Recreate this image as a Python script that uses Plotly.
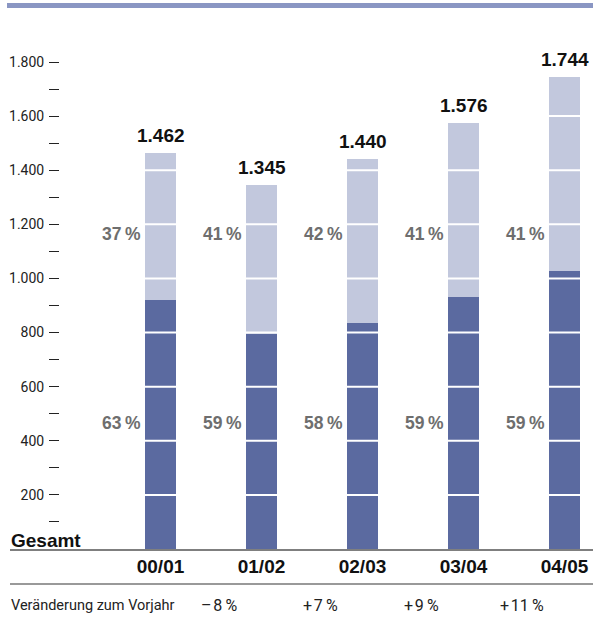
import plotly.graph_objects as go

categories = ["00/01", "01/02", "02/03", "03/04", "04/05"]
totals = [1462, 1345, 1440, 1576, 1744]
total_labels = ["1.462", "1.345", "1.440", "1.576", "1.744"]
dark_values = [921, 794, 835, 930, 1029]
dark_pct = ["63\u2009%", "59\u2009%", "58\u2009%", "59\u2009%", "59\u2009%"]
light_pct = ["37\u2009%", "41\u2009%", "42\u2009%", "41\u2009%", "41\u2009%"]
changes = ["–\u200a8\u2009%", "+\u200a7\u2009%", "+\u200a9\u2009%", "+\u200a11\u2009%"]
y_tickvals = [200, 400, 600, 800, 1000, 1200, 1400, 1600, 1800]
y_ticktext = ["200", "400", "600", "800", "1.000", "1.200", "1.400", "1.600", "1.800"]
y_minor = [100, 300, 500, 700, 900, 1100, 1300, 1500, 1700]

light_values = [t - d for t, d in zip(totals, dark_values)]
xs = list(range(len(categories)))

DARK = "#5b6aa0"
LIGHT = "#c2c8dd"
TOPBAR = "#8a96c3"
GRAY = "#6e6e6e"
REG = "Roboto, Liberation Sans, sans-serif"
BOLD = "Liberation Sans, Arial, sans-serif"

W, H = 593, 621
ML, MR, MT, MB = 60, 0, 40, 72
PW = W - ML - MR
PH = H - MT - MB


def px_x(p):
    return (p - ML) / PW


def px_y(p):
    return (H - MB - p) / PH


BAR_W = 0.307

fig = go.Figure()
fig.add_trace(go.Bar(x=xs, y=dark_values, marker=dict(color=DARK, line=dict(width=0)),
                     width=BAR_W, hoverinfo="skip"))
fig.add_trace(go.Bar(x=xs, y=light_values, marker=dict(color=LIGHT, line=dict(width=0)),
                     width=BAR_W, hoverinfo="skip"))

shapes = []
for v in y_tickvals:
    shapes.append(dict(type="line", xref="paper", yref="y", x0=0, x1=1, y0=v, y1=v,
                       line=dict(color="white", width=2), layer="above"))
shapes.append(dict(type="rect", xref="paper", yref="paper", x0=px_x(7), x1=px_x(593),
                   y0=px_y(8), y1=px_y(3), fillcolor=TOPBAR, line=dict(width=0)))
shapes.append(dict(type="line", xref="paper", yref="paper", x0=px_x(10), x1=px_x(593),
                   y0=px_y(550), y1=px_y(550), line=dict(color="#555555", width=1.5), layer="above"))
shapes.append(dict(type="line", xref="paper", yref="paper", x0=px_x(10), x1=px_x(593),
                   y0=px_y(584), y1=px_y(584), line=dict(color="#777777", width=1.5)))

annotations = []
for i, x in enumerate(xs):
    annotations.append(dict(x=x, y=totals[i], xref="x", yref="y", text=f"<b>{total_labels[i]}</b>",
                            showarrow=False, yanchor="bottom", yshift=5,
                            font=dict(family=BOLD, size=19, color="#111111")))
    annotations.append(dict(x=x - BAR_W / 2, y=1165, xref="x", yref="y", text=f"<b>{light_pct[i]}</b>",
                            showarrow=False, xanchor="right", yanchor="middle", xshift=-2,
                            font=dict(family=BOLD, size=17.5, color=GRAY)))
    annotations.append(dict(x=x - BAR_W / 2, y=465, xref="x", yref="y", text=f"<b>{dark_pct[i]}</b>",
                            showarrow=False, xanchor="right", yanchor="middle", xshift=-2,
                            font=dict(family=BOLD, size=17.5, color=GRAY)))
for i, c in enumerate(changes):
    annotations.append(dict(x=i + 0.58, y=px_y(605), xref="x", yref="paper", text=c,
                            showarrow=False, xanchor="center", yanchor="middle",
                            font=dict(family=REG, size=16, color="#222222")))
annotations.append(dict(x=px_x(9), y=px_y(540), xref="paper", yref="paper", text="<b>Gesamt</b>",
                        showarrow=False, xanchor="left", yanchor="middle",
                        font=dict(family=BOLD, size=19, color="#111111")))
annotations.append(dict(x=px_x(9), y=px_y(605), xref="paper", yref="paper",
                        text="Veränderung zum Vorjahr",
                        showarrow=False, xanchor="left", yanchor="middle",
                        font=dict(family=REG, size=14.5, color="#222222")))

y_max = PH / (487 / 1800)
x_left = -(160.5 - ML) / 101.0
x_right = x_left + PW / 101.0

fig.update_layout(
    width=W, height=H,
    margin=dict(l=ML, r=MR, t=MT, b=MB, pad=0),
    barmode="stack",
    showlegend=False,
    plot_bgcolor="white", paper_bgcolor="white",
    shapes=shapes, annotations=annotations,
    xaxis=dict(range=[x_left, x_right], tickmode="array", tickvals=xs,
               ticktext=[f"<b>{c}</b>" for c in categories],
               showgrid=False, zeroline=False, showline=False, ticks="",
               ticklabelstandoff=4,
               tickfont=dict(family=BOLD, size=19, color="#111111")),
    yaxis=dict(range=[0, y_max], tickmode="array", tickvals=y_tickvals, ticktext=y_ticktext,
               showgrid=False, zeroline=False, showline=False,
               ticks="outside", ticklen=10, tickwidth=1, tickcolor="#222222",
               ticklabelstandoff=2,
               minor=dict(tickmode="array", tickvals=y_minor,
                          ticks="outside", ticklen=10, tickwidth=1, tickcolor="#222222"),
               tickfont=dict(family=REG, size=14, color="#222222")),
)

fig.write_html("out.html")
